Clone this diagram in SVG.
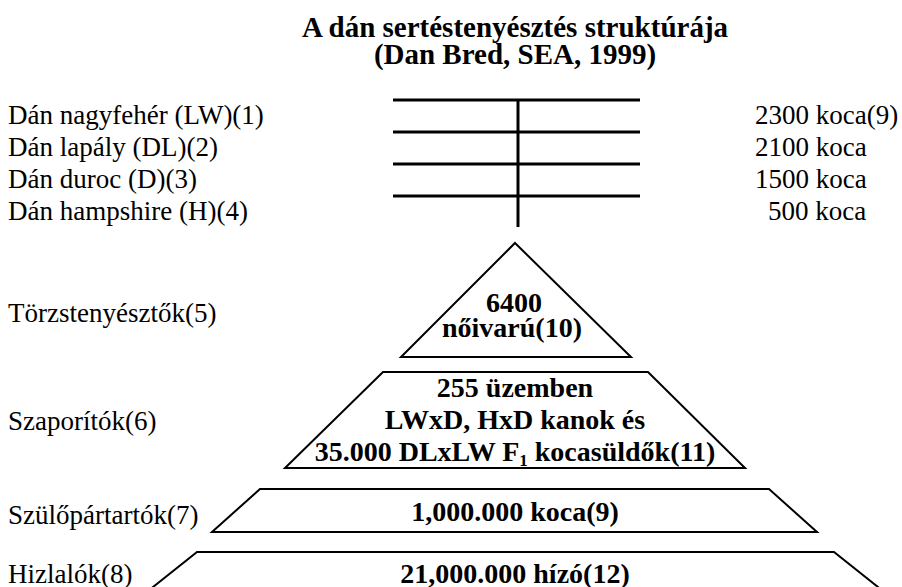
<svg xmlns="http://www.w3.org/2000/svg" width="902" height="587" viewBox="0 0 902 587">
<style>
text{font-family:"Liberation Serif","Times New Roman",serif;fill:#000}
.t{font-size:29px;font-weight:bold;text-anchor:middle}
.l{font-size:27px}
.c{font-size:28px;font-weight:bold;text-anchor:middle}
.s{fill:#fff;stroke:#000;stroke-width:2}
.ln{stroke:#000;stroke-width:3;fill:none}
</style>
<rect width="902" height="587" fill="#fff"/>
<g id="title">
<text class="t" x="515" y="37">A dán sertéstenyésztés struktúrája</text>
<text class="t" x="515" y="64">(Dan Bred, SEA, 1999)</text>
</g>
<g id="labels">
<text class="l" x="8" y="124">Dán nagyfehér (LW)(1)</text>
<text class="l" x="8" y="156">Dán lapály (DL)(2)</text>
<text class="l" x="8" y="188">Dán duroc (D)(3)</text>
<text class="l" x="8" y="220">Dán hampshire (H)(4)</text>
<text class="l" x="755" y="124">2300 koca(9)</text>
<text class="l" x="755" y="156">2100 koca</text>
<text class="l" x="755" y="188">1500 koca</text>
<text class="l" x="768" y="220">500 koca</text>
<text class="l" x="8" y="322">Törzstenyésztők(5)</text>
<text class="l" x="8" y="430">Szaporítók(6)</text>
<text class="l" x="8" y="524">Szülőpártartók(7)</text>
<text class="l" x="8" y="583">Hizlalók(8)</text>
</g>
<g id="connectors">
<line class="ln" x1="393" y1="100" x2="640" y2="100"/>
<line class="ln" x1="393" y1="132" x2="640" y2="132"/>
<line class="ln" x1="393" y1="164" x2="640" y2="164"/>
<line class="ln" x1="393" y1="196" x2="640" y2="196"/>
<line class="ln" x1="518" y1="100" x2="518" y2="227"/>
</g>
<g id="torzs">
<polygon class="s" points="515,243 631,357 401,357"/>
<text class="c" x="514" y="312">6400</text>
<text class="c" x="512" y="337">nőivarú(10)</text>
</g>
<g id="szaporitok">
<polygon class="s" points="383,372 648,372 745,468 285,468"/>
<text class="c" x="515" y="397">255 üzemben</text>
<text class="c" x="515" y="429">LWxD, HxD kanok és</text>
<text class="c" x="515" y="461">35.000 DLxLW F<tspan font-size="17" dy="5">1</tspan><tspan dy="-5"> kocasüldők(11)</tspan></text>
</g>
<g id="szulo">
<polygon class="s" points="260,489 769,489 817,532 212,532"/>
<text class="c" x="515" y="521">1,000.000 koca(9)</text>
</g>
<g id="hizlalok">
<polygon class="s" points="197,552 834,552 888,595 143,595"/>
<text class="c" x="515" y="583">21,000.000 hízó(12)</text>
</g>
</svg>
